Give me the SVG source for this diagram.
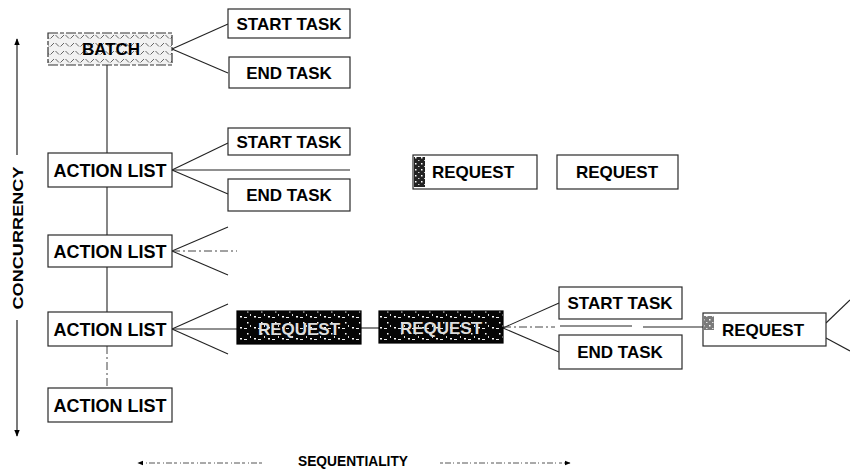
<svg xmlns="http://www.w3.org/2000/svg" width="850" height="470" viewBox="0 0 850 470">
<style>
.box{fill:#fff;stroke:#2a2a2a;stroke-width:1.2}
.lbl{font-family:"Liberation Sans",Arial,sans-serif;font-weight:bold;font-size:17px;fill:#000;text-anchor:middle}
.lnk{stroke:#222;stroke-width:1.1;fill:none}
.dsh{stroke:#444;stroke-width:1;fill:none;stroke-dasharray:8 3 2 3}
.axis{stroke:#222;stroke-width:1.2;fill:none}
.ax2{stroke:#555;stroke-width:1;fill:none;stroke-dasharray:3 2 6 2 1 3}
.axt{font-family:"Liberation Sans",Arial,sans-serif;font-weight:bold;font-size:15px;fill:#000;text-anchor:middle}
.dark{fill:url(#speck);stroke:#000;stroke-width:1.2}
.dlbl{font-family:"Liberation Sans",Arial,sans-serif;font-weight:bold;font-size:17px;fill:#ddd;text-anchor:middle}
</style>
<defs>
<pattern id="hatch" width="10" height="8" patternUnits="userSpaceOnUse">
<rect width="10" height="8" fill="#f2f2f2"/>
<path d="M0.5,6.5 L4,3 M5.5,3 L9,6.5" stroke="#555" stroke-width="0.9" fill="none"/>
</pattern>
<pattern id="speck" width="14" height="11" patternUnits="userSpaceOnUse">
<rect width="14" height="11" fill="#050505"/>
<rect x="2" y="8" width="2" height="1.5" fill="#fff"/>
<rect x="9" y="3" width="1.5" height="1.5" fill="#fff"/>
<rect x="6" y="9" width="3" height="1" fill="#eee"/>
<rect x="12" y="6" width="1" height="2" fill="#ddd"/>
</pattern>
<pattern id="speck2" width="6" height="6" patternUnits="userSpaceOnUse">
<rect width="6" height="6" fill="#222"/>
<rect x="1" y="1" width="1.5" height="1.5" fill="#fff"/>
<rect x="4" y="4" width="1.5" height="1" fill="#ccc"/>
</pattern>
<marker id="ah" viewBox="0 0 10 10" refX="9" refY="5" markerWidth="6" markerHeight="6" orient="auto-start-reverse">
<path d="M0,1 L10,5 L0,9 Z" fill="#000"/>
</marker>
</defs>

<g id="connectors">
<line class="lnk" x1="107" y1="65" x2="107" y2="153"/>
<line class="lnk" x1="107" y1="187" x2="107" y2="235"/>
<line class="lnk" x1="107" y1="267" x2="107" y2="312"/>
<line class="dsh" x1="107" y1="346" x2="107" y2="388"/>
<line class="lnk" x1="172" y1="49" x2="228" y2="24"/>
<line class="lnk" x1="172" y1="49" x2="228" y2="73"/>
<line class="lnk" x1="172" y1="170" x2="228" y2="143"/>
<line class="lnk" x1="172" y1="170" x2="350" y2="170"/>
<line class="lnk" x1="172" y1="170" x2="228" y2="194"/>
<line class="lnk" x1="172" y1="251" x2="228" y2="227"/>
<line class="dsh" x1="172" y1="251" x2="237" y2="251"/>
<line class="lnk" x1="172" y1="251" x2="228" y2="275"/>
<line class="lnk" x1="172" y1="329" x2="228" y2="304"/>
<line class="lnk" x1="172" y1="329" x2="237" y2="329"/>
<line class="lnk" x1="172" y1="329" x2="228" y2="354"/>
<line class="lnk" x1="361" y1="328" x2="379" y2="328"/>
<line class="lnk" x1="503" y1="328" x2="559" y2="303"/>
<line class="lnk" x1="503" y1="328" x2="559" y2="352"/>
<line class="dsh" x1="503" y1="327" x2="555" y2="327"/>
<line class="lnk" x1="560" y1="326" x2="632" y2="326"/>
<line class="lnk" x1="643" y1="327" x2="703" y2="327"/>
<line class="lnk" x1="826" y1="323" x2="850" y2="300"/>
<line class="lnk" x1="826" y1="338" x2="850" y2="351"/>
</g>

<g id="batch">
<rect x="48" y="33" width="124" height="32" fill="url(#hatch)" stroke="#333" stroke-width="1.2" stroke-dasharray="10 2 4 2"/>
<text class="lbl" x="111" y="55">BATCH</text>
</g>
<g id="start-task-1">
<rect class="box" x="228" y="9" width="122" height="29"/>
<text class="lbl" x="289" y="30">START TASK</text>
</g>
<g id="end-task-1">
<rect class="box" x="229" y="57" width="121" height="31"/>
<text class="lbl" x="289" y="79">END TASK</text>
</g>

<g id="action-list-1">
<rect class="box" x="48" y="153" width="124" height="34"/>
<text class="lbl" x="110" y="177" style="font-size:18px">ACTION LIST</text>
</g>
<g id="start-task-2">
<rect class="box" x="228" y="128" width="122" height="27"/>
<text class="lbl" x="289" y="148">START TASK</text>
</g>
<g id="end-task-2">
<rect class="box" x="228" y="179" width="122" height="32"/>
<text class="lbl" x="289" y="201">END TASK</text>
</g>

<g id="request-top-1">
<rect class="box" x="413" y="155" width="124" height="34"/>
<rect x="414" y="157" width="11" height="30" fill="url(#speck2)"/>
<text class="lbl" x="473" y="178">REQUEST</text>
</g>
<g id="request-top-2">
<rect class="box" x="557" y="155" width="121" height="34"/>
<text class="lbl" x="617" y="178">REQUEST</text>
</g>

<g id="action-list-2">
<rect class="box" x="48" y="235" width="124" height="32"/>
<text class="lbl" x="110" y="258" style="font-size:18px">ACTION LIST</text>
</g>

<g id="action-list-3">
<rect class="box" x="48" y="312" width="124" height="34"/>
<text class="lbl" x="110" y="336" style="font-size:18px">ACTION LIST</text>
</g>
<g id="request-dark-1">
<rect class="dark" x="237" y="311" width="124" height="33"/>
<text class="dlbl" x="299" y="335">REQUEST</text>
</g>
<g id="request-dark-2">
<rect class="dark" x="379" y="311" width="124" height="32"/>
<text class="dlbl" x="441" y="334">REQUEST</text>
</g>
<g id="start-task-3">
<rect class="box" x="559" y="287" width="123" height="32"/>
<text class="lbl" x="620" y="309">START TASK</text>
</g>
<g id="end-task-3">
<rect class="box" x="559" y="335" width="123" height="34"/>
<text class="lbl" x="620" y="358">END TASK</text>
</g>
<g id="request-3">
<rect class="box" x="703" y="313" width="123" height="33"/>
<rect x="704" y="316" width="10" height="14" fill="url(#speck2)" opacity="0.6"/>
<text class="lbl" x="763" y="336">REQUEST</text>
</g>

<g id="action-list-4">
<rect class="box" x="48" y="388" width="124" height="34"/>
<text class="lbl" x="110" y="412" style="font-size:18px">ACTION LIST</text>
</g>

<g id="axis-concurrency">
<line class="axis" x1="17" y1="155" x2="17" y2="39" marker-end="url(#ah)"/>
<line class="axis" x1="17" y1="320" x2="17" y2="436" marker-end="url(#ah)"/>
<text class="axt" transform="translate(23,238) rotate(-90)" textLength="143" lengthAdjust="spacingAndGlyphs">CONCURRENCY</text>
</g>
<g id="axis-sequentiality">
<line class="ax2" x1="262" y1="463" x2="138" y2="463" marker-end="url(#ah)"/>
<line class="ax2" x1="440" y1="463" x2="570" y2="463" marker-end="url(#ah)"/>
<text class="axt" x="353" y="466" textLength="110" lengthAdjust="spacingAndGlyphs">SEQUENTIALITY</text>
</g>
</svg>
